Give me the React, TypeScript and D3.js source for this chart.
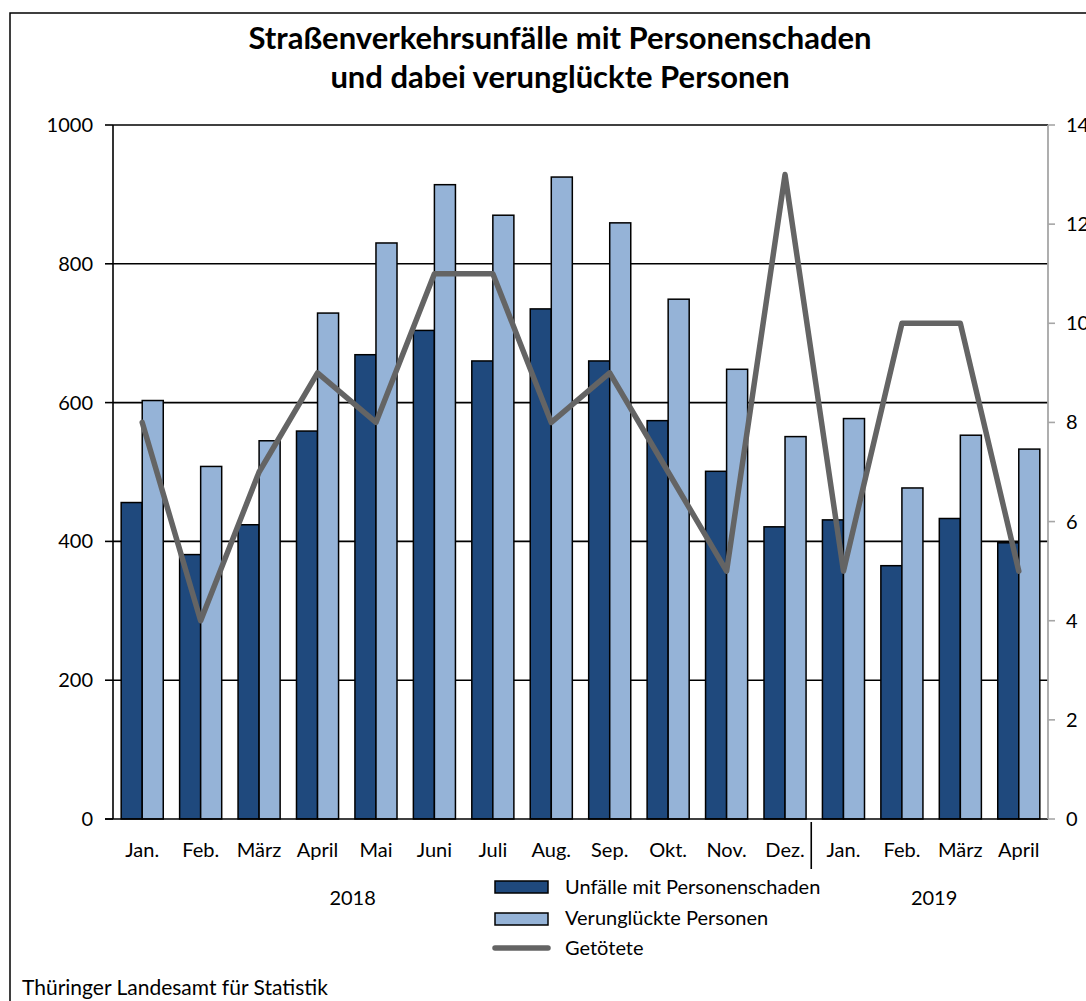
import React from 'react';
import * as d3 from 'd3';

const months = ['Jan.', 'Feb.', 'März', 'April', 'Mai', 'Juni', 'Juli', 'Aug.', 'Sep.', 'Okt.', 'Nov.', 'Dez.', 'Jan.', 'Feb.', 'März', 'April'];
const years = [
  { label: '2018', from: 0, to: 11, shift: -111 },
  { label: '2019', from: 12, to: 15, shift: 3 },
];
const unfaelle = [456, 381, 424, 559, 669, 704, 660, 735, 660, 574, 501, 421, 431, 365, 433, 398];
const verunglueckte = [603, 508, 545, 729, 830, 914, 870, 925, 859, 749, 648, 551, 577, 477, 553, 533];
const getoetete = [8, 4, 7, 9, 8, 11, 11, 8, 9, 7, 5, 13, 5, 10, 10, 5];
const leftTicks = [0, 200, 400, 600, 800, 1000];
const rightTicks = [0, 2, 4, 6, 8, 10, 12, 14];

const DARK = '#1f497d';
const LIGHT = '#95b3d7';
const LINE = '#646464';
const FONT = 'Lato, "Open Sans", sans-serif';

const App = () => {
  const width = 1086;
  const height = 1001;
  const margin = { top: 125, right: 1048, bottom: 819, left: 113 };

  const idx = months.map((_, i) => String(i));

  const x = d3
    .scaleBand()
    .domain(idx)
    .range([margin.left, margin.right])
    .paddingInner(0.28)
    .paddingOuter(0.14);

  const xInner = d3
    .scaleBand()
    .domain(['u', 'v'])
    .range([0, x.bandwidth()]);

  const y = d3.scaleLinear().domain([0, 1000]).range([margin.bottom, margin.top]);
  const y2 = d3.scaleLinear().domain([0, 14]).range([margin.bottom, margin.top]);

  const center = (i: number) => (x(String(i)) as number) + x.bandwidth() / 2;
  const step = x.step();

  const line = d3
    .line<number>()
    .x((_, i) => center(i))
    .y(d => y2(d));

  const sepX = (x('12') as number) - (step - x.bandwidth()) / 2 - 3;

  return (
    <svg
      width={width}
      height={height}
      viewBox={`0 0 ${width} ${height}`}
      style={{ position: 'absolute', left: 0, top: 0, background: '#fff' }}
      fontFamily={FONT}
    >
      <rect x={10} y={13} width={width + 20} height={height + 20} fill="#fff" stroke="#000" strokeWidth={1.5} />

      <text x={560} y={49} textAnchor="middle" fontSize={31} fontWeight="bold">
        Straßenverkehrsunfälle mit Personenschaden
      </text>
      <text x={560} y={88} textAnchor="middle" fontSize={31} fontWeight="bold">
        und dabei verunglückte Personen
      </text>

      {/* gridlines */}
      {leftTicks.filter(t => t > 0).map(t => (
        <line key={`g-${t}`} x1={margin.left} x2={margin.right} y1={y(t)} y2={y(t)} stroke="#000" strokeWidth={1.6} />
      ))}

      {/* bars */}
      {unfaelle.map((d, i) => (
        <rect
          key={`u-${i}`}
          x={(x(String(i)) as number) + (xInner('u') as number)}
          y={y(d)}
          width={xInner.bandwidth()}
          height={y(0) - y(d)}
          fill={DARK}
          stroke="#000"
          strokeWidth={1.5}
        />
      ))}
      {verunglueckte.map((d, i) => (
        <rect
          key={`v-${i}`}
          x={(x(String(i)) as number) + (xInner('v') as number)}
          y={y(d)}
          width={xInner.bandwidth()}
          height={y(0) - y(d)}
          fill={LIGHT}
          stroke="#000"
          strokeWidth={1.5}
        />
      ))}

      {/* left axis */}
      <line x1={margin.left} x2={margin.left} y1={margin.top} y2={margin.bottom} stroke="#000" strokeWidth={1.6} />
      {leftTicks.map(t => (
        <g key={`lt-${t}`}>
          <line x1={margin.left - 8} x2={margin.left} y1={y(t)} y2={y(t)} stroke="#000" strokeWidth={1.6} />
          <text x={93} y={y(t)} dy="0.35em" textAnchor="end" fontSize={20}>
            {t}
          </text>
        </g>
      ))}

      {/* bottom axis */}
      <line x1={margin.left - 8} x2={margin.right} y1={margin.bottom} y2={margin.bottom} stroke="#000" strokeWidth={1.6} />
      {months.map((m, i) => (
        <text key={`m-${i}`} x={center(i)} y={857} textAnchor="middle" fontSize={20}>
          {m}
        </text>
      ))}
      <line x1={sepX} x2={sepX} y1={822} y2={869} stroke="#000" strokeWidth={1.6} />
      {years.map(yr => (
        <text key={yr.label} x={(center(yr.from) + center(yr.to)) / 2 + yr.shift} y={905} textAnchor="middle" fontSize={20}>
          {yr.label}
        </text>
      ))}

      {/* right axis */}
      <line x1={margin.right} x2={margin.right} y1={margin.top} y2={margin.bottom} stroke="#a6a6a6" strokeWidth={1.8} />
      {rightTicks.map(t => (
        <g key={`rt-${t}`}>
          <line x1={margin.right} x2={margin.right + 7} y1={y2(t)} y2={y2(t)} stroke="#a6a6a6" strokeWidth={1.6} />
          <text x={1066} y={y2(t)} dy="0.35em" textAnchor="start" fontSize={20}>
            {t}
          </text>
        </g>
      ))}

      {/* line */}
      <path d={line(getoetete) || ''} fill="none" stroke={LINE} strokeWidth={5.5} strokeLinejoin="round" strokeLinecap="round" />

      {/* legend */}
      <rect x={495} y={881} width={53} height={12} fill={DARK} stroke="#000" strokeWidth={1.5} />
      <text x={565} y={894} fontSize={20}>Unfälle mit Personenschaden</text>
      <rect x={495} y={913} width={53} height={12} fill={LIGHT} stroke="#000" strokeWidth={1.5} />
      <text x={565} y={925} fontSize={20}>Verunglückte Personen</text>
      <line x1={495} x2={548} y1={948} y2={948} stroke={LINE} strokeWidth={5.5} strokeLinecap="round" />
      <text x={565} y={955} fontSize={20}>Getötete</text>

      <text x={22} y={995} fontSize={21}>Thüringer Landesamt für Statistik</text>
    </svg>
  );
};

export default App;
